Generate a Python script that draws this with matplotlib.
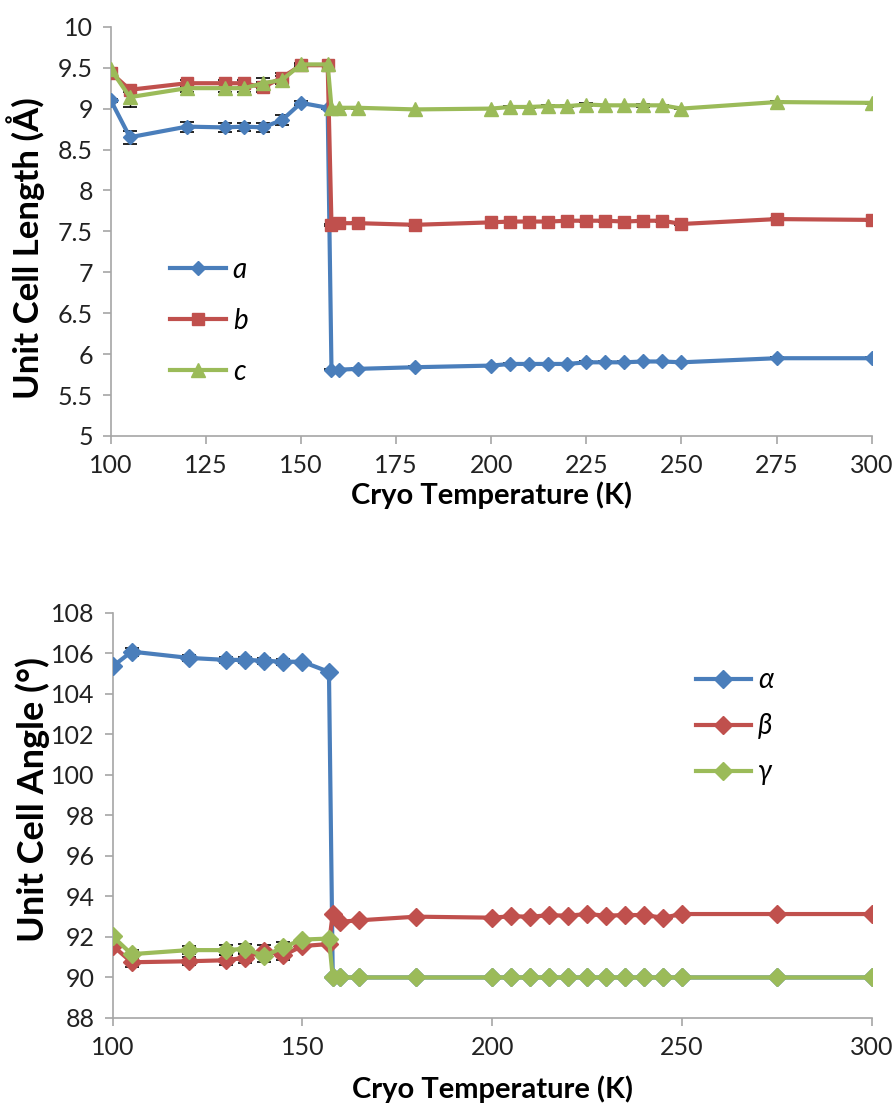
import matplotlib
matplotlib.use("Agg")
import matplotlib.pyplot as plt

plt.rcParams["font.family"] = ["Lato", "DejaVu Sans"]

BLUE = "#4A7EBB"
RED = "#C0504D"
GREEN = "#9BBB59"
AXIS = "#A6A6A6"

# cryo temperatures (K)
temps = [100, 105, 120, 130, 135, 140, 145, 150, 157, 158, 160, 165, 180,
         200, 205, 210, 215, 220, 225, 230, 235, 240, 245, 250, 275, 300]

# unit cell lengths (Å)
len_a = [9.10, 8.65, 8.78, 8.77, 8.78, 8.77, 8.86, 9.07, 9.01, 5.81, 5.81, 5.82, 5.84,
         5.86, 5.88, 5.88, 5.88, 5.88, 5.90, 5.90, 5.90, 5.91, 5.91, 5.90, 5.95, 5.95]
len_b = [9.44, 9.23, 9.31, 9.31, 9.31, 9.26, 9.38, 9.53, 9.53, 7.58, 7.60, 7.60, 7.58,
         7.61, 7.62, 7.62, 7.62, 7.63, 7.63, 7.63, 7.62, 7.63, 7.63, 7.59, 7.65, 7.64]
len_c = [9.48, 9.14, 9.25, 9.25, 9.25, 9.31, 9.35, 9.54, 9.54, 9.01, 9.01, 9.01, 8.99,
         9.00, 9.02, 9.02, 9.03, 9.03, 9.05, 9.04, 9.04, 9.04, 9.04, 9.00, 9.08, 9.07]
err_a = [0.02, 0.08, 0.06, 0.05, 0.05, 0.05, 0.06, 0.02, 0.01, 0.01, 0.01, 0.01, 0.01,
         0.01, 0.01, 0.01, 0.01, 0.01, 0.01, 0.01, 0.01, 0.01, 0.01, 0.01, 0.01, 0.01]
err_b = [0.02, 0.03, 0.04, 0.04, 0.04, 0.06, 0.05, 0.02, 0.01, 0.01, 0.01, 0.01, 0.01,
         0.01, 0.01, 0.01, 0.01, 0.01, 0.01, 0.01, 0.01, 0.01, 0.01, 0.01, 0.01, 0.01]
err_c = [0.02, 0.12, 0.05, 0.05, 0.05, 0.06, 0.05, 0.02, 0.01, 0.01, 0.01, 0.01, 0.01,
         0.01, 0.01, 0.01, 0.01, 0.01, 0.02, 0.01, 0.01, 0.02, 0.01, 0.01, 0.01, 0.01]

# unit cell angles (°)
ang_alpha = [105.35, 106.08, 105.77, 105.67, 105.67, 105.63, 105.58, 105.58, 105.08,
             90.00, 90.00, 90.00, 90.00, 90.00, 90.00, 90.00, 90.00, 90.00, 90.00,
             90.00, 90.00, 90.00, 90.00, 90.00, 90.00, 90.00]
ang_beta = [91.57, 90.75, 90.80, 90.85, 90.98, 91.32, 91.10, 91.55, 91.65, 93.15,
            92.75, 92.82, 93.00, 92.95, 93.02, 93.00, 93.07, 93.05, 93.13, 93.05,
            93.08, 93.08, 92.95, 93.13, 93.13, 93.13]
ang_gamma = [92.03, 91.15, 91.35, 91.35, 91.42, 91.05, 91.50, 91.87, 91.92, 90.00,
             90.00, 90.00, 90.00, 90.00, 90.00, 90.00, 90.00, 90.00, 90.00, 90.00,
             90.00, 90.00, 90.00, 90.00, 90.00, 90.00]
err_alpha = [0.10, 0.20, 0.15, 0.15, 0.15, 0.15, 0.15, 0.05, 0.05, 0.02, 0.02, 0.02, 0.02,
             0.02, 0.02, 0.02, 0.02, 0.02, 0.02, 0.02, 0.02, 0.02, 0.02, 0.02, 0.02, 0.02]
err_beta = [0.10, 0.25, 0.20, 0.25, 0.25, 0.30, 0.25, 0.05, 0.05, 0.02, 0.02, 0.02, 0.02,
            0.02, 0.02, 0.02, 0.02, 0.02, 0.02, 0.02, 0.02, 0.02, 0.02, 0.02, 0.02, 0.02]
err_gamma = [0.10, 0.20, 0.20, 0.25, 0.25, 0.30, 0.25, 0.05, 0.05, 0.02, 0.02, 0.02, 0.02,
             0.02, 0.02, 0.02, 0.02, 0.02, 0.02, 0.02, 0.02, 0.02, 0.02, 0.02, 0.02, 0.02]


def style_axes(ax):
    for side in ("top", "right"):
        ax.spines[side].set_visible(False)
    for side in ("left", "bottom"):
        ax.spines[side].set_color(AXIS)
        ax.spines[side].set_linewidth(1.2)
    ax.tick_params(axis="both", direction="out", length=6, width=1.2,
                   color=AXIS, labelsize=18, labelcolor="#222222", pad=7)


def draw_series(ax, y, err, color, marker, ms, label):
    ax.errorbar(temps, y, yerr=err, fmt="none", ecolor="black",
                elinewidth=1.0, capsize=5, capthick=1.2, zorder=2)
    ax.plot(temps, y, color=color, lw=3.0, marker=marker, ms=ms,
            markeredgecolor=color, label=label, zorder=3)


fig = plt.figure(figsize=(8.94, 11.15), dpi=100)

# lengths
ax1 = fig.add_axes([0.124, 0.609, 0.851, 0.367])
draw_series(ax1, len_a, err_a, BLUE, "D", 7.5, "a")
draw_series(ax1, len_b, err_b, RED, "s", 8.5, "b")
draw_series(ax1, len_c, err_c, GREEN, "^", 9.5, "c")
ax1.set_xlim(100, 300)
ax1.set_ylim(5, 10)
ax1.set_xticks([100, 125, 150, 175, 200, 225, 250, 275, 300])
ax1.set_yticks([5, 5.5, 6, 6.5, 7, 7.5, 8, 8.5, 9, 9.5, 10])
ax1.set_yticklabels(["5", "5.5", "6", "6.5", "7", "7.5", "8", "8.5", "9", "9.5", "10"])
ax1.set_xlabel("Cryo Temperature (K)", fontsize=21, fontweight="bold", labelpad=3)
ax1.set_ylabel("Unit Cell Length (Å)", fontsize=25, fontweight="bold")
ax1.yaxis.set_label_coords(-0.086, 0.46)
style_axes(ax1)
ax1.legend(loc="upper left", bbox_to_anchor=(0.078, 0.437), frameon=False,
           prop={"size": 20, "style": "italic"}, handlelength=2.0,
           labelspacing=0.9, handletextpad=0.25, borderpad=0, borderaxespad=0)

# angles
ax2 = fig.add_axes([0.126, 0.087, 0.849, 0.3635])
draw_series(ax2, ang_alpha, err_alpha, BLUE, "D", 9, "α")
draw_series(ax2, ang_beta, err_beta, RED, "D", 9, "β")
draw_series(ax2, ang_gamma, err_gamma, GREEN, "D", 9, "γ")
ax2.set_xlim(100, 300)
ax2.set_ylim(88, 108)
ax2.set_xticks([100, 150, 200, 250, 300])
ax2.set_yticks(range(88, 109, 2))
ax2.set_xlabel("Cryo Temperature (K)", fontsize=21, fontweight="bold", labelpad=12)
ax2.set_ylabel("Unit Cell Angle (°)", fontsize=26, fontweight="bold")
ax2.yaxis.set_label_coords(-0.083, 0.54)
style_axes(ax2)
ax2.legend(loc="upper left", bbox_to_anchor=(0.768, 0.865), frameon=False,
           prop={"size": 20, "style": "italic"}, handlelength=2.0,
           labelspacing=0.72, handletextpad=0.25, borderpad=0, borderaxespad=0)

fig.savefig("out.png", dpi=100)
